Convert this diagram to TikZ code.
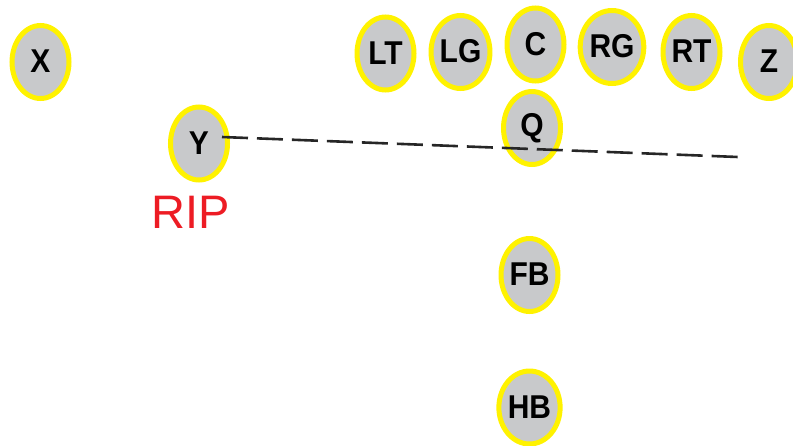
\documentclass[tikz,border=0pt]{standalone}
\usepackage{fontspec}
\usepackage{graphicx}
\setmainfont{Liberation Sans}
\usetikzlibrary{shapes.geometric}
\definecolor{plyfill}{RGB}{200,201,203}
\definecolor{plyline}{RGB}{255,242,0}
\definecolor{ripred}{RGB}{237,28,36}
\newcommand\plytxt[1]{\raisebox{1.5pt}{\scalebox{1}[1.1]{#1}}}
\tikzset{
  player/.style={ellipse, draw=plyline, fill=plyfill, line width=5pt,
    minimum width=57pt, minimum height=73pt, inner sep=0pt,
    font=\fontsize{30}{30}\selectfont\bfseries, text=black},
  route/.style={line width=2.6pt, draw=black!85, dash pattern=on 26pt off 9pt}
}
\begin{document}
\begin{tikzpicture}[x=1pt,y=-1pt]
\useasboundingbox (0,0) rectangle (793,445);
\node[player] (X) at (40.5,62) {\plytxt{X}};
\node[player] (Y) at (199,143.5) {\plytxt{Y}};
\node[player] (LT) at (385.5,53.5) {\plytxt{LT}};
\node[player] (LG) at (460.5,52) {\plytxt{LG}};
\node[player] (C) at (535.5,44.5) {\plytxt{C}};
\node[player] (RG) at (612,47) {\plytxt{RG}};
\node[player] (RT) at (691.5,52) {\plytxt{RT}};
\node[player] (Z) at (769,62) {\plytxt{Z}};
\node[player] (Q) at (532,128) {\plytxt{Q}};
\node[player] (FB) at (529.5,275) {\plytxt{FB}};
\node[player] (HB) at (529.5,407.5) {\plytxt{HB}};
\node[text=ripred, font=\fontsize{47}{47}\selectfont, inner sep=0pt] (rip) at (190.5,212) {RIP};
\coordinate (ys) at (222,137);
\coordinate (ye) at (738,157);
\draw[route] (ys) -- (ye);
\end{tikzpicture}
\end{document}
